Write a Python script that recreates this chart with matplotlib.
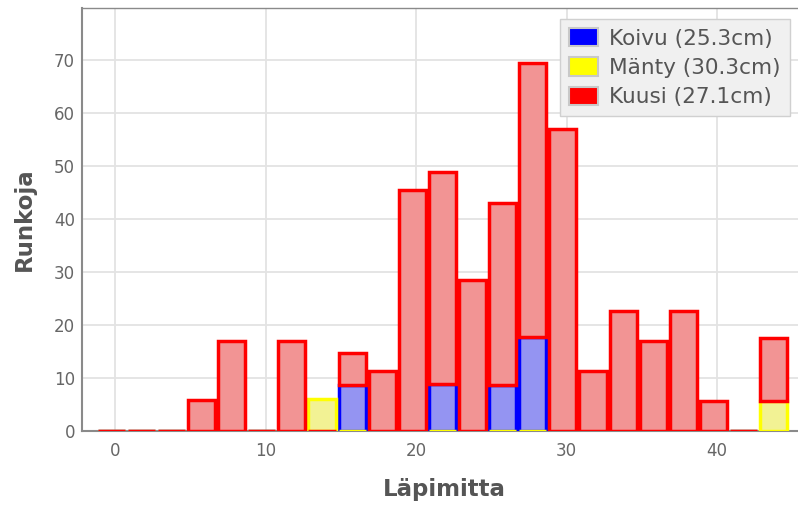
import matplotlib
matplotlib.use("Agg")
import matplotlib.pyplot as plt
from matplotlib.patches import Patch
import numpy as np

# Diameter classes (cm)
classes = [0, 2, 4, 6, 8, 10, 12, 14, 16, 18, 20, 22, 24, 26, 28, 30, 32, 34, 36, 38, 40, 42, 44]
koivu = [0, 0, 0, 0, 0, 0, 0, 0, 8.7, 0, 0, 8.9, 0, 8.7, 17.8, 0, 0, 0, 0, 0, 0, 0, 0]
manty = [0, 0, 0, 0, 0, 0, 0, 6.1, 0, 0, 0, 0, 0, 0, 0, 0, 0, 0, 0, 0, 0, 0, 5.7]
kuusi = [0, 0, 0, 5.8, 17.0, 0, 17.0, 0, 6.1, 11.4, 45.4, 39.9, 28.5, 34.4, 51.6, 56.9,
         11.4, 22.6, 16.9, 22.6, 5.7, 0, 11.8]
labels = ["Koivu (25.3cm)", "Mänty (30.3cm)", "Kuusi (27.1cm)"]
x_ticks = [0, 10, 20, 30, 40]
y_ticks = [0, 10, 20, 30, 40, 50, 60, 70]

edge_colors = ["#0000ff", "#ffff00", "#ff0000"]
fill_colors = ["#9494f2", "#f2f294", "#f29494"]

W, H = 798, 507
fig = plt.figure(figsize=(W / 100, H / 100), dpi=100)
ax = fig.add_axes([82 / W, 1 - 431 / H, (W - 82) / W + 0.01, (431 - 8) / H])

x = np.array(classes, dtype=float) - 0.25
cum = np.zeros(len(classes))
for vals, fc, ec in zip([koivu, manty, kuusi], fill_colors, edge_colors):
    v = np.array(vals, dtype=float)
    bottoms = np.where(v > 0, cum, 0.0)
    ax.bar(x, v, bottom=bottoms, width=1.8, color=fc, edgecolor=ec,
           linewidth=2.5, zorder=3)
    cum = cum + v

ax.set_xlim(-2.19, 45.4 + 0.5)
ax.set_ylim(0, 79.8)
ax.set_xticks(x_ticks)
ax.set_yticks(y_ticks)
ax.grid(True, color="#e3e3e3", linewidth=1.3, zorder=0)
ax.set_axisbelow(True)
ax.tick_params(length=0, labelsize=12, colors="#666666")
ax.tick_params(axis="x", pad=8)
ax.tick_params(axis="y", pad=5)
for s in ["left", "bottom", "top"]:
    ax.spines[s].set_color("#8a8a8a")
    ax.spines[s].set_linewidth(1.5)
ax.spines["top"].set_linewidth(1.0)
ax.spines["right"].set_visible(False)

ax.set_xlabel("Läpimitta", fontsize=16.5, fontweight="bold", color="#555555", labelpad=13)
ax.set_ylabel("Runkoja", fontsize=16.5, fontweight="bold", color="#555555", labelpad=13)

handles = [Patch(facecolor=c, edgecolor="#c8c8c8", linewidth=1.5) for c in edge_colors]
leg = ax.legend(handles, labels, loc="upper left", bbox_to_anchor=(560 / W, 1 - 19 / H),
                bbox_transform=fig.transFigure, fontsize=15.6, frameon=True,
                handlelength=1.35, handleheight=0.92, handletextpad=0.5,
                labelspacing=0.4, borderpad=0.42, borderaxespad=0, fancybox=False)
leg.get_frame().set_facecolor("#f0f0f0")
leg.get_frame().set_edgecolor("#d0d0d0")
leg.get_frame().set_alpha(1)
for t in leg.get_texts():
    t.set_color("#555555")

fig.savefig("out.png", dpi=100)
